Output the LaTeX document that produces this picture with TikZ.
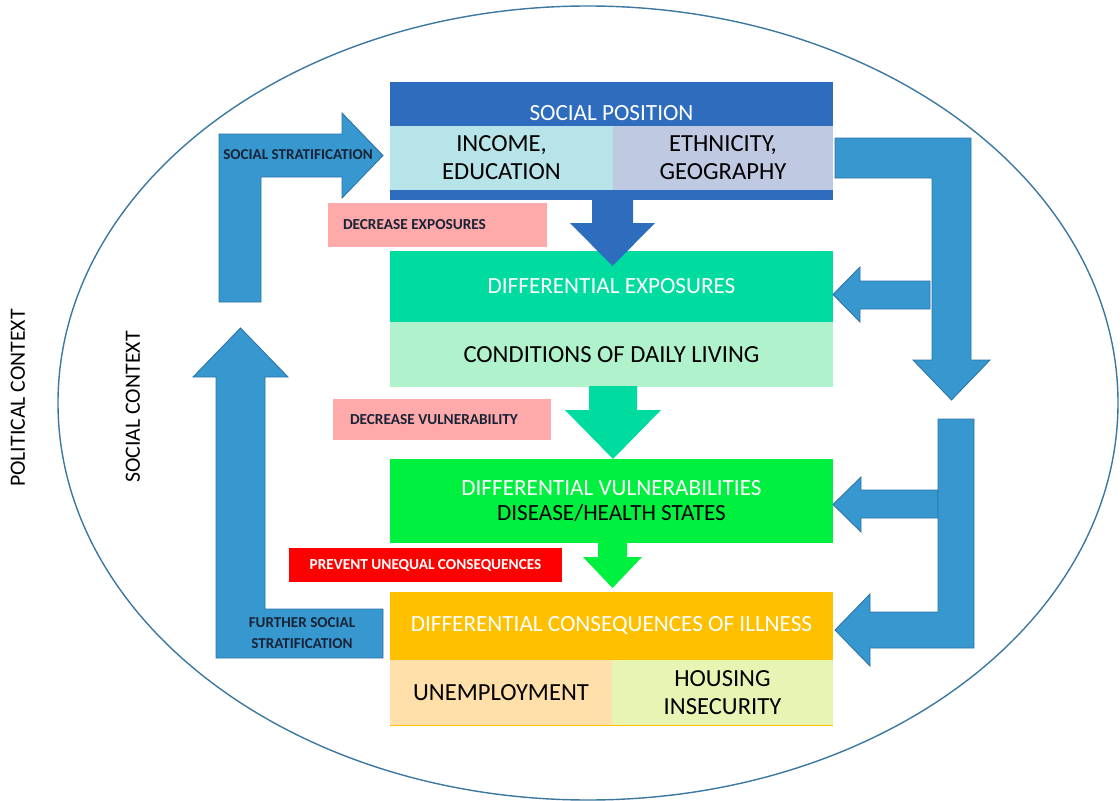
\documentclass[tikz,border=0pt]{standalone}
\usepackage{fontspec}
\setmainfont{Carlito}
\usetikzlibrary{positioning}
\definecolor{posblue}{RGB}{46,109,189}
\definecolor{incbg}{RGB}{183,228,232}
\definecolor{ethbg}{RGB}{192,201,226}
\definecolor{expbg}{RGB}{0,219,160}
\definecolor{condbg}{RGB}{176,242,204}
\definecolor{vulbg}{RGB}{0,240,64}
\definecolor{consbg}{RGB}{255,192,0}
\definecolor{unempbg}{RGB}{255,224,170}
\definecolor{housbg}{RGB}{232,244,180}
\definecolor{pinkbg}{RGB}{255,170,170}
\definecolor{arrblue}{RGB}{55,152,208}
\definecolor{arredge}{RGB}{45,115,165}
\definecolor{ringline}{RGB}{60,120,160}
\definecolor{labdark}{RGB}{25,35,55}

\begin{document}
\begin{tikzpicture}[x=0.02cm,y=-0.02cm,
  box/.style={rectangle, inner sep=0pt, align=center, font=\fontsize{13.2}{16}\selectfont},
  subbox/.style={box, font=\fontsize{14}{16}\selectfont},
  tag/.style={rectangle, inner sep=0pt, font=\fontsize{8.7}{10}\selectfont\bfseries},
  blockarr/.style={fill=arrblue, draw=arredge, line width=0.5pt},
  armlabel/.style={align=center, font=\fontsize{8.6}{12}\selectfont\bfseries, text=labdark},
  ctx/.style={rotate=90, font=\fontsize{12.4}{14}\selectfont}]
\useasboundingbox (0,0) rectangle (1120,801);
% context ring
\draw[ringline, line width=0.8pt] (588,403) ellipse [x radius=530, y radius=397];
\node[ctx] (polctx) at (18,398) {POLITICAL CONTEXT};
\node[ctx] (socctx) at (133,407) {SOCIAL CONTEXT};

% social position
\fill[posblue] (390,82) rectangle (833,200);
\node[box, text=white] (pos) at (611.5,113) {SOCIAL POSITION};
\node[subbox, fill=incbg, minimum width=4.46cm, minimum height=1.28cm] (inc) at (501.5,158) {INCOME,\\EDUCATION};
\node[subbox, fill=ethbg, minimum width=4.40cm, minimum height=1.28cm] (eth) at (723,158) {ETHNICITY,\\GEOGRAPHY};

% exposures
\node[box, fill=expbg, text=white, minimum width=8.86cm, minimum height=1.42cm] (exp) at (611.5,286.5) {DIFFERENTIAL EXPOSURES};
\node[subbox, fill=condbg, minimum width=8.86cm, minimum height=1.30cm] (cond) at (611.5,354.5) {CONDITIONS OF DAILY LIVING};

% vulnerabilities
\node[box, fill=vulbg, minimum width=8.86cm, minimum height=1.68cm, font=\fontsize{13.2}{14.7}\selectfont] (vul) at (611.5,501) {{\color{white}DIFFERENTIAL VULNERABILITIES}\\DISEASE/HEALTH STATES};

% consequences
\node[box, fill=consbg, text=white, minimum width=8.86cm, minimum height=1.36cm] (cons) at (611.5,626) {DIFFERENTIAL CONSEQUENCES OF ILLNESS};
\node[subbox, fill=unempbg, minimum width=4.44cm, minimum height=1.30cm] (unemp) at (501,692.5) {UNEMPLOYMENT};
\node[subbox, fill=housbg, minimum width=4.42cm, minimum height=1.30cm] (hous) at (722.5,692.5) {HOUSING\\INSECURITY};
\draw[consbg, line width=0.8pt] (unemp.south west) -- (hous.south east);

% interventions
\node[tag, fill=pinkbg, text=labdark, minimum height=0.88cm, text width=3.78cm, inner xsep=0.3cm, align=flush left] (decexp) at (437.5,225) {DECREASE EXPOSURES};
\node[tag, fill=pinkbg, text=labdark, minimum height=0.82cm, text width=3.68cm, inner xsep=0.34cm, align=flush left] (decvul) at (442,419.5) {DECREASE VULNERABILITY};
\node[tag, fill=red, text=white, minimum width=5.46cm, minimum height=0.68cm] (prev) at (425.5,565) {PREVENT UNEQUAL CONSEQUENCES};

% downward arrows
\fill[posblue] (592,199) -- (592,223) -- (570,223) -- (612.5,266) -- (655,223) -- (633,223) -- (633,199) -- cycle;
\fill[expbg] (589,386) -- (589,410) -- (565,410) -- (613,459) -- (661,410) -- (637,410) -- (637,386) -- cycle;
\fill[vulbg] (598,542) -- (598,557) -- (583,557) -- (612.5,588) -- (642,557) -- (627,557) -- (627,542) -- cycle;

% stratification arrows
\draw[blockarr] (219,302) -- (219,134) -- (342,134) -- (342,113) -- (383,155.5) -- (342,198) -- (342,177) -- (261,177) -- (261,302) -- cycle;
\node[armlabel] (strat) at (298,155) {SOCIAL STRATIFICATION};
\draw[blockarr] (383,658) -- (216,658) -- (216,377) -- (193,377) -- (240.5,328) -- (288,377) -- (265,377) -- (265,609) -- (383,609) -- cycle;
\node[armlabel] (further) at (302,633.5) {FURTHER SOCIAL\\STRATIFICATION};

% feedback arrows on the right
\draw[blockarr] (835,138) -- (971,138) -- (971,360) -- (990,360) -- (951.5,400) -- (913,360) -- (932,360) -- (932,178) -- (835,178) -- cycle;
\draw[blockarr] (930,281) -- (860,281) -- (860,267) -- (833,294.5) -- (860,322) -- (860,309) -- (930,309) -- cycle;
\draw[blockarr] (938,490) -- (861,490) -- (861,477) -- (833,504.5) -- (861,532) -- (861,518) -- (938,518) -- cycle;
\draw[blockarr] (938,419) -- (974,419) -- (974,648) -- (870,648) -- (870,666) -- (835,630) -- (870,594) -- (870,612) -- (938,612) -- cycle;
\end{tikzpicture}
\end{document}
